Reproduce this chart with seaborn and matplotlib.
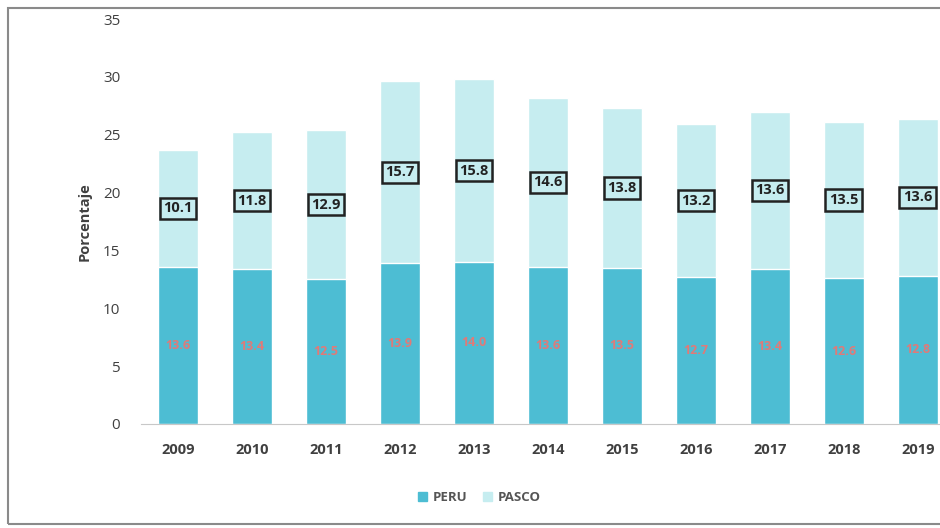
import pandas as pd
import matplotlib.pyplot as plt
import seaborn as sns
from matplotlib.patches import Rectangle, Patch

# Data
years = ['2009', '2010', '2011', '2012', '2013', '2014', '2015', '2016', '2017', '2018', '2019']
peru = [13.6, 13.4, 12.5, 13.9, 14.0, 13.6, 13.5, 12.7, 13.4, 12.6, 12.8]
pasco = [10.1, 11.8, 12.9, 15.7, 15.8, 14.6, 13.8, 13.2, 13.6, 13.5, 13.6]

df = pd.DataFrame({'Año': years, 'PERU': peru, 'PASCO': pasco})
df['Total'] = df['PERU'] + df['PASCO']

c_peru = '#4dbdd3'
c_pasco = '#c6edf0'

sns.set_style('white')
plt.rcParams['font.family'] = ['Open Sans', 'DejaVu Sans']

fig = plt.figure(figsize=(9.4, 5.28), dpi=100)
ax = fig.add_axes([0.15, 0.197, 0.85, 0.767])

# stacked bars: total first (PASCO colour), PERU on top of it
sns.barplot(data=df, x='Año', y='Total', color=c_pasco, width=0.54, saturation=1, ax=ax)
sns.barplot(data=df, x='Año', y='PERU', color=c_peru, width=0.54, saturation=1, ax=ax)

ax.set_ylim(0, 35)
ax.set_xlim(-0.5, 10.3)
ax.set_yticks(range(0, 36, 5))
ax.set_xlabel('')
ax.set_ylabel('Porcentaje', fontsize=10.5, fontweight='bold', color='#404040', labelpad=8)
ax.tick_params(axis='y', labelsize=11, labelcolor='#404040', pad=15, length=0)
ax.tick_params(axis='x', labelsize=10.5, labelcolor='#404040', pad=14, length=0)
for t in ax.get_xticklabels():
    t.set_fontweight('bold')
sns.despine(ax=ax, left=True, right=True, top=True, bottom=False)
ax.spines['bottom'].set_color('#c8c8c8')

# value labels
for i, row in df.iterrows():
    ax.text(i, row['PERU'] / 2, f"{row['PERU']:.1f}", ha='center', va='center',
            fontsize=9, fontweight='bold', color='#e07a78')
    ax.text(i, row['PERU'] + row['PASCO'] / 2, f"{row['PASCO']:.1f}", ha='center', va='center',
            fontsize=10.5, fontweight='bold', color='#222222',
            bbox=dict(boxstyle='square,pad=0.25', fc='none', ec='#222222', lw=1.8))

# legend
handles = [Patch(color=c_peru, label='PERU'), Patch(color=c_pasco, label='PASCO')]
leg = fig.legend(handles=handles, loc='center', bbox_to_anchor=(0.51, 0.058), ncol=2,
                 frameon=False, fontsize=9.5, handlelength=0.7, handleheight=0.7,
                 handletextpad=0.4, columnspacing=1.2)
for t in leg.get_texts():
    t.set_color('#555555')
    t.set_fontweight('bold')

# outer frame
fig.patches.append(Rectangle((0.009, 0.008), 1.2, 0.977, transform=fig.transFigure,
                             fill=False, ec='#8a8a8a', lw=1.5))

fig.savefig('out.png', dpi=100)
